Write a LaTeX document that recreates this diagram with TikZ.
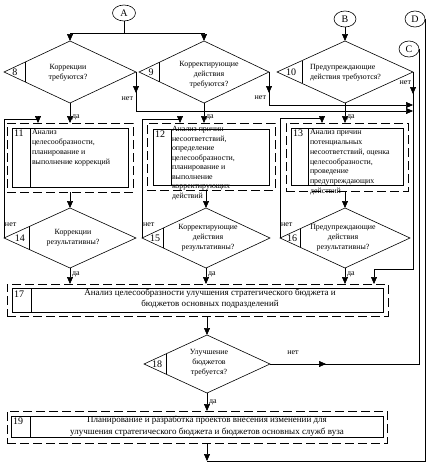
\documentclass[tikz,border=0pt]{standalone}
\usepackage{fontspec}
\setmainfont{Liberation Serif}
\usetikzlibrary{shapes.geometric,arrows.meta,calc}
\begin{document}
\begin{tikzpicture}[x=1pt,y=-1pt,
  line width=0.6pt,
  every node/.style={inner sep=0pt,outer sep=0pt},
  tx/.style={font=\fontsize{7.9}{10}\selectfont},
  num/.style={font=\fontsize{10}{12}\selectfont},
  lbl/.style={font=\fontsize{8}{9}\selectfont},
  dia/.style={diamond,draw},
  sbox/.style={draw,anchor=north west},
  dbox/.style={draw,anchor=north west,dash pattern=on 9pt off 4pt},
  conn/.style={ellipse,draw,minimum height=16pt,font=\fontsize{10}{12}\selectfont},
  arr/.style={-{Triangle[width=6pt,length=7pt]}},
]
\fill[white] (0,0) rectangle (430,469);
\useasboundingbox (0,0) rectangle (430,469);

% connectors
\node[conn,minimum width=23pt] (A) at (124,13) {A};
\node[conn,minimum width=22pt] (B) at (345,19) {B};
\node[conn,minimum width=20pt] (D) at (415,19) {D};
\node[conn,minimum width=20pt] (C) at (409,49) {C};

% diamonds
\node[dia,minimum width=132pt,minimum height=62pt] (d8) at (70,72) {};
\node[dia,minimum width=130pt,minimum height=62pt] (d9) at (204,72) {};
\node[dia,minimum width=136pt,minimum height=62pt] (d10) at (345,72) {};
\node[dia,minimum width=132pt,minimum height=60pt] (d14) at (70,238) {};
\node[dia,minimum width=128pt,minimum height=60pt] (d15) at (206,238) {};
\node[dia,minimum width=130pt,minimum height=60pt] (d16) at (345,238) {};
\node[dia,minimum width=126pt,minimum height=58pt] (d18) at (207,364) {};

% diamond separators and numbers
\draw ($(d8.west)!0.33!(d8.north)$) -- ($(d8.west)!0.33!(d8.south)$);
\node[num] at ($(d8.west)+(11,0)$) {8};
\draw ($(d9.west)!0.31!(d9.north)$) -- ($(d9.west)!0.31!(d9.south)$);
\node[num] at ($(d9.west)+(12,0)$) {9};
\draw ($(d10.west)!0.37!(d10.north)$) -- ($(d10.west)!0.37!(d10.south)$);
\node[num] at ($(d10.west)+(14,0)$) {10};
\draw ($(d14.west)!0.39!(d14.north)$) -- ($(d14.west)!0.39!(d14.south)$);
\node[num] at ($(d14.west)+(16,0)$) {14};
\draw ($(d15.west)!0.33!(d15.north)$) -- ($(d15.west)!0.33!(d15.south)$);
\node[num] at ($(d15.west)+(13,0)$) {15};
\draw ($(d16.west)!0.31!(d16.north)$) -- ($(d16.west)!0.31!(d16.south)$);
\node[num] at ($(d16.west)+(12,0)$) {16};
\draw ($(d18.west)!0.35!(d18.north)$) -- ($(d18.west)!0.35!(d18.south)$);
\node[num] at ($(d18.west)+(13,0)$) {18};

% diamond texts
\node[tx,align=center] (q8) at (68,73) {Коррекции\\требуются?};
\node[tx,align=center] (q9) at (209,75) {Корректирующие\\действия\\требуются?};
\node[tx,align=left,anchor=west] (q10) at (310,73) {Предупреждающие\\действия требуются?};
\node[tx,align=center] (q14) at (73,238) {Коррекции\\результативны?};
\node[tx,align=center] (q15) at (208,238) {Корректирующие\\действия\\результативны?};
\node[tx,align=center] (q16) at (343,238) {Предупреждающие\\действия\\результативны?};
\node[tx,align=center] (q18) at (209,363) {Улучшение\\бюджетов\\требуется?};

% boxes
\node[dbox,minimum width=126pt,minimum height=69pt] (b11o) at (7,123) {};
\node[sbox,minimum width=116pt,minimum height=59pt] (b11) at (12,128) {};
\node[dbox,minimum width=128pt,minimum height=67pt] (b12o) at (147,123) {};
\node[sbox,minimum width=116pt,minimum height=56pt] (b12) at (153,129) {};
\node[dbox,minimum width=122pt,minimum height=68pt] (b13o) at (286,123) {};
\node[sbox,minimum width=112pt,minimum height=57pt] (b13) at (291,128) {};
\node[dbox,minimum width=381pt,minimum height=32pt] (b17o) at (7,284) {};
\node[sbox,minimum width=371pt,minimum height=24pt] (b17) at (12,288) {};
\node[dbox,minimum width=380pt,minimum height=32pt] (b19o) at (7,411) {};
\node[sbox,minimum width=372pt,minimum height=21pt] (b19) at (11,416) {};

% box separators and numbers
\draw ($(b11.north west)+(18,0)$) -- ($(b11.south west)+(18,0)$);
\node[num,anchor=north west] at ($(b11.north west)+(2,2)$) {11};
\draw ($(b12.north west)+(18,0)$) -- ($(b12.south west)+(18,0)$);
\node[num,anchor=north west] at ($(b12.north west)+(2,2)$) {12};
\draw ($(b13.north west)+(17,0)$) -- ($(b13.south west)+(17,0)$);
\node[num,anchor=north west] at ($(b13.north west)+(2,2)$) {13};
\draw ($(b17.north west)+(19,0)$) -- ($(b17.south west)+(19,0)$);
\node[num,anchor=north west] at ($(b17.north west)+(2,3)$) {17};
\draw ($(b19.north west)+(19,0)$) -- ($(b19.south west)+(19,0)$);
\node[num,anchor=north west] at ($(b19.north west)+(2,2)$) {19};

% box texts
\node[tx,align=left,anchor=north west] (p11) at (32,129.5) {Анализ\\целесообразности,\\планирование и\\выполнение коррекций};
\node[font=\fontsize{7.9}{9.5}\selectfont,align=left,anchor=north west] (p12) at (172,126.5) {Анализ причин\\несоответствий,\\определение\\целесообразности,\\планирование и\\выполнение\\корректирующих\\действий};
\node[font=\fontsize{7.9}{9.8}\selectfont,align=left,anchor=north west] (p13) at (310,129.5) {Анализ причин\\потенциальных\\несоответствий, оценка\\целесообразности,\\проведение\\предупреждающих\\действий};
\node[font=\fontsize{9}{11}\selectfont,align=center] (p17) at (210,298.5) {Анализ целесообразности улучшения стратегического бюджета и\\бюджетов основных подразделений};
\node[font=\fontsize{9}{11.5}\selectfont,align=center] (p19) at (207,426) {Планирование и разработка проектов внесения изменений для\\улучшения стратегического бюджета и бюджетов основных служб вуза};

% A fork
\coordinate (aj) at (124,33);
\draw (A.south) -- (aj);
\draw (d8.north |- aj) -- (d9.north |- aj);
\draw[arr] (d8.north |- aj) -- (d8.north);
\draw[arr] (d9.north |- aj) -- (d9.north);
\draw[arr] (B.south) -- (d10.north);

% no-branches of 8, 9, 10
\coordinate (n8) at ($(d8.east)+(0,39)$);
\draw (d8.east) -- (n8);
\draw[arr] (d8.east) -- ++(0,21);
\draw[arr] (n8) -- (n8 -| d10.east);
\node[lbl,anchor=east] at ($(d8.east)+(-3,27)$) {нет};

\coordinate (n9) at ($(d9.east)+(0,33)$);
\draw (d9.east) -- (n9);
\draw[arr] (d9.east) -- ++(0,21);
\draw[arr] (n9) -- (n9 -| d10.east);
\node[lbl,anchor=east] at ($(d9.east)+(-3,26)$) {нет};

\coordinate (t17) at (374,269);
\draw (d10.east) |- (t17);
\draw[arr] (d10.east) -- ++(0,22);
\draw[arr] (t17) -- (t17 |- b17o.north);
\node[lbl,anchor=east] at ($(d10.east)+(-2,11)$) {нет};

% yes-branches to 11, 12, 13
\draw[arr] (d8.south) -- (d8.south |- b11o.north);
\node[lbl,anchor=west] at ($(d8.south)+(2,14)$) {да};
\draw[arr] (d9.south) -- (d9.south |- b12o.north);
\node[lbl,anchor=west] at ($(d9.south)+(2,14)$) {да};
\draw[arr] (d10.south) -- (d10.south |- b13o.north);
\node[lbl,anchor=west] at ($(d10.south)+(2,14)$) {да};

% loops back
\coordinate (l14) at (38,119);
\draw (d14.west) |- (l14);
\draw[arr] (l14) -- (l14 |- b11o.north);
\node[lbl,anchor=south west] at ($(d14.west)+(1,-11)$) {нет};
\coordinate (l15) at (180,119);
\draw (d15.west) |- (l15);
\draw[arr] (l15) -- (l15 |- b12o.north);
\node[lbl,anchor=south west] at ($(d15.west)+(1,-11)$) {нет};
\coordinate (l16) at (322,118);
\draw (d16.west) |- (l16);
\draw[arr] (l16) -- (l16 |- b13o.north);
\node[lbl,anchor=south west] at ($(d16.west)+(1,-11)$) {нет};

% boxes to checks
\draw[arr] (d14.north |- b11o.south) -- (d14.north);
\draw[arr] (d15.north |- b12o.south) -- (d15.north);
\draw[arr] (d16.north |- b13o.south) -- (d16.north);

% checks to 17
\draw[arr] (d14.south) -- (d14.south |- b17o.north);
\node[lbl,anchor=west] at ($(d14.south)+(2,6)$) {да};
\draw[arr] (d15.south) -- (d15.south |- b17o.north);
\node[lbl,anchor=west] at ($(d15.south)+(2,6)$) {да};
\draw[arr] (d16.south) -- (d16.south |- b17o.north);
\node[lbl,anchor=west] at ($(d16.south)+(2,6)$) {да};

% 17 to 18
\draw[arr] (d18.north |- b17o.south) -- (d18.north);

% 18 no -> C
\coordinate (c1) at (d18.east -| C.east);
\draw (d18.east) -- (c1) -- (C.east);
\draw[arr] (d18.east) -- ++(56,0);
\node[lbl] at (293,353) {нет};

% 18 yes -> 19
\draw[arr] (d18.south) -- (d18.south |- b19o.north);
\node[lbl,anchor=west] at ($(d18.south)+(2,9)$) {да};

% 19 -> D
\coordinate (bt) at (207,461);
\draw[arr] (bt |- b19o.south) -- (bt);
\draw (bt) -| (D.east);
\end{tikzpicture}
\end{document}
